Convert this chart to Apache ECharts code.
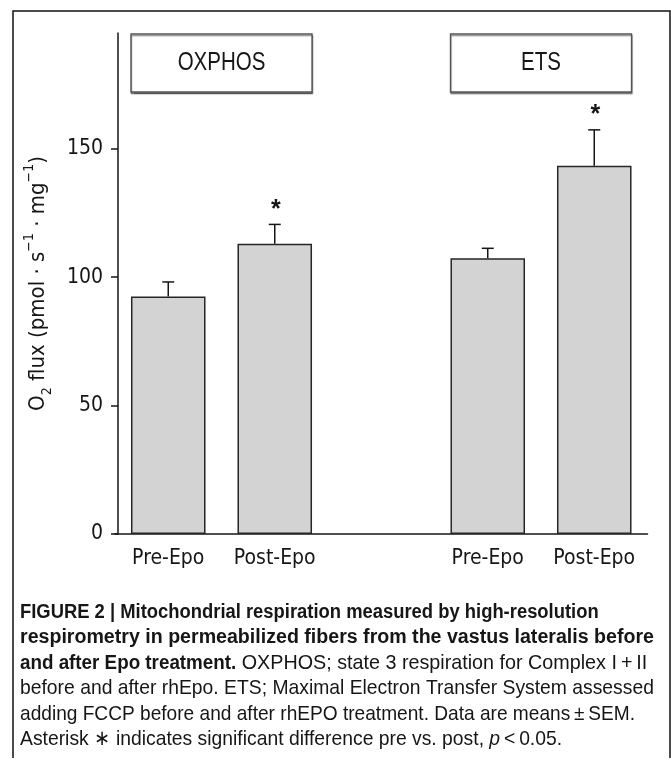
<!DOCTYPE html>
<html><head><meta charset="utf-8">
<script src="https://cdn.jsdelivr.net/npm/echarts@6/dist/echarts.min.js"></script>
<style>html,body{margin:0;padding:0;background:#fff}#c{width:671px;height:769px}</style>
</head><body><div id="c"></div>
<script>
// ---- data ----
const categories = ['Pre-Epo', 'Post-Epo', '', 'Pre-Epo', 'Post-Epo'];
const meanFlux = [92.4, 113.0, null, 107.3, 143.3];
const semFlux = [5.7, 7.5, null, 3.9, 14.0];
const significant = [false, true, false, false, true];
const groupNames = ['OXPHOS', 'ETS'];
const groupFirstIdx = [0, 3];
const groupLastIdx = [1, 4];
const yTicks = [0, 50, 100, 150];
const yMax = 195;
const captionLines = [
  '{b|FIGURE 2 | Mitochondrial respiration measured by high-resolution}',
  '{b|respirometry in permeabilized fibers from the vastus lateralis before}',
  '{b|and after Epo treatment.}{n| OXPHOS; state 3 respiration for Complex I\u2009+\u2009II}',
  '{n|before and after rhEpo. ETS; Maximal Electron Transfer System assessed}',
  '{n|adding FCCP before and after rhEPO treatment. Data are means\u2009\u00b1\u2009SEM.}',
  '{n|Asterisk \u2217 indicates significant difference pre vs. post, }{i|p}{n|\u2009<\u20090.05.}'
];

const NARROW = '"DejaVu Sans Condensed", "Liberation Sans", sans-serif';
const HELV = '"Liberation Sans", Arial, sans-serif';
const INK = '#161616';

const chart = echarts.init(document.getElementById('c'), null, {renderer: 'canvas'});

const errData = categories.map((c, i) => meanFlux[i] == null ? null : [i, meanFlux[i], semFlux[i], significant[i] ? 1 : 0]).filter(d => d);

chart.setOption({
  animation: false,
  backgroundColor: '#fff',
  grid: {left: 115, width: 532.5, top: 33, bottom: 235},
  xAxis: {
    type: 'category', data: categories,
    axisLine: {lineStyle: {color: INK, width: 1.5}},
    axisTick: {show: false},
    axisLabel: {interval: 0, fontFamily: NARROW, fontSize: 21, color: INK, margin: 14}
  },
  yAxis: {
    type: 'value', min: 0, max: yMax, offset: -3,
    axisLine: {show: true, lineStyle: {color: INK, width: 1.5}},
    axisTick: {show: true, length: 7, customValues: yTicks, lineStyle: {color: INK, width: 1.5}},
    axisLabel: {customValues: yTicks, fontFamily: NARROW, fontSize: 21, color: INK, margin: 15},
    splitLine: {show: false},
    name: '{n|O}{sub|2}{n| flux (pmol \u00b7 s}{sup|\u22121}{n| \u00b7 mg}{sup|\u22121}{n|)}',
    nameLocation: 'middle', nameGap: 64, nameRotate: 90,
    nameTextStyle: {
      rich: {
        n: {fontFamily: NARROW, fontSize: 22, color: INK, lineHeight: 32, verticalAlign: 'middle'},
        sub: {fontFamily: NARROW, fontSize: 14, color: INK, lineHeight: 32, verticalAlign: 'bottom'},
        sup: {fontFamily: NARROW, fontSize: 14, color: INK, lineHeight: 32, verticalAlign: 'top'}
      }
    }
  },
  series: [
    {
      type: 'bar', data: meanFlux, barWidth: '70%',
      itemStyle: {color: '#d3d3d3', borderColor: '#262626', borderWidth: 1.5},
      z: 2
    },
    {
      type: 'custom', data: errData, z: 3,
      encode: {x: 0, y: 1},
      renderItem: function (params, api) {
        const i = api.value(0), m = api.value(1), s = api.value(2), sig = api.value(3);
        const base = api.coord([i, m]);
        const top = api.coord([i, m + s]);
        const cap = 6;
        const children = [
          {type: 'line', shape: {x1: base[0], y1: base[1], x2: top[0], y2: top[1]}, style: {stroke: INK, lineWidth: 1.5}},
          {type: 'line', shape: {x1: top[0] - cap, y1: top[1], x2: top[0] + cap, y2: top[1]}, style: {stroke: INK, lineWidth: 1.5}}
        ];
        if (sig) {
          children.push({type: 'text', x: top[0] + 1, y: top[1] - 2, style: {text: '*', font: 'bold 25px ' + HELV, fill: INK, align: 'center', verticalAlign: 'bottom'}});
        }
        return {type: 'group', children: children};
      }
    }
  ]
});

// group label boxes and figure frame / caption
const slot = chart.convertToPixel({xAxisIndex: 0}, 1) - chart.convertToPixel({xAxisIndex: 0}, 0);
const half = slot * 0.7 / 2;
const yTop = chart.convertToPixel({yAxisIndex: 0}, yMax);
const graphics = [];
groupNames.forEach((g, k) => {
  const x0 = chart.convertToPixel({xAxisIndex: 0}, groupFirstIdx[k]) - half;
  const x1 = chart.convertToPixel({xAxisIndex: 0}, groupLastIdx[k]) + half;
  graphics.push({
    type: 'rect', shape: {x: x0, y: yTop + 1, width: x1 - x0, height: 58},
    style: {fill: '#fff', stroke: '#555', lineWidth: 1.3, shadowColor: 'rgba(0,0,0,0.45)', shadowOffsetX: 0.5, shadowOffsetY: 1.5, shadowBlur: 1}
  });
  graphics.push({
    type: 'text', x: (x0 + x1) / 2, y: yTop + 30, scaleX: 0.82,
    style: {text: g, font: '25px ' + HELV, fill: INK, align: 'center', verticalAlign: 'middle'}
  });
});
graphics.push({
  type: 'polyline', shape: {points: [[13, 758], [13, 11], [670, 11], [670, 758]]},
  style: {stroke: '#111', lineWidth: 1.5, fill: null}
});
const capRich = {
  b: {font: 'bold 20px ' + HELV, fill: INK},
  n: {font: '21px ' + HELV, fill: INK},
  i: {font: 'italic 21px ' + HELV, fill: INK}
};
const capScale = [0.92, 0.98, 0.94, 0.92, 0.91, 0.92];
captionLines.forEach((t, k) => {
  graphics.push({
    type: 'text', x: 20, y: 612 + k * 25.5, scaleX: capScale[k],
    style: {text: t, rich: capRich, verticalAlign: 'middle', align: 'left'}
  });
});
chart.setOption({graphic: graphics});
</script>
</body></html>
